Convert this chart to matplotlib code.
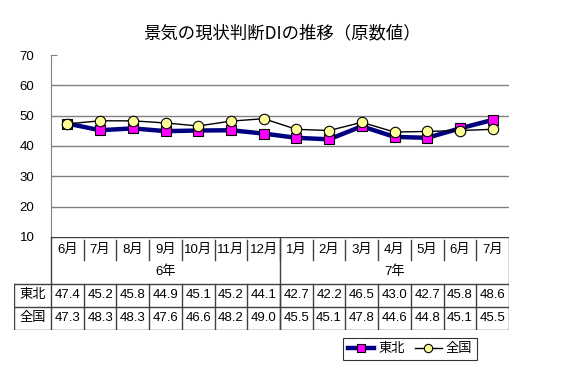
import numpy as np
import matplotlib.pyplot as plt

plt.rcParams['font.family'] = ['Liberation Sans', 'Noto Sans CJK JP']

months = ["6月", "7月", "8月", "9月", "10月", "11月", "12月",
          "1月", "2月", "3月", "4月", "5月", "6月", "7月"]
years = ["6年", "7年"]
tohoku = [47.4, 45.2, 45.8, 44.9, 45.1, 45.2, 44.1, 42.7, 42.2, 46.5, 43.0, 42.7, 45.8, 48.6]
zenkoku = [47.3, 48.3, 48.3, 47.6, 46.6, 48.2, 49.0, 45.5, 45.1, 47.8, 44.6, 44.8, 45.1, 45.5]
series_names = ["東北", "全国"]

W, H = 564, 382
fig = plt.figure(figsize=(W / 100, H / 100), dpi=100)
fs = 9.5

# main plot
ax = fig.add_axes([51 / W, 1 - 237 / H, 458 / W, 182 / H])
x = np.arange(len(months)) + 0.5
ax.plot(x, tohoku, color='#000080', lw=3.2, marker='s', ms=7.5,
        mfc='#FF00FF', mec='#000000', mew=0.8, label=series_names[0], zorder=3)
ax.plot(x, zenkoku, color='black', lw=1, marker='o', ms=7.5,
        mfc='#FFFF99', mec='#000000', mew=0.8, label=series_names[1], zorder=4)
ax.set_xlim(0, len(months))
ax.set_ylim(10, 70)
ax.set_yticks(range(10, 71, 10))
ax.set_xticks([])
for y in range(20, 70, 10):
    ax.axhline(y, color='#808080', lw=1, zorder=1)
for s in ['top', 'right', 'bottom']:
    ax.spines[s].set_visible(False)
ax.spines['left'].set_color('#808080')
ax.tick_params(axis='y', direction='in', length=4, color='#808080',
               labelsize=fs, pad=12)

fig.text(282 / W, 1 - 33 / H, "景気の現状判断DIの推移（原数値）",
         ha='center', va='center', fontsize=12.5,
         family=['Noto Sans CJK JP'])

# data table below
n = len(months)
colw = 458 / n
lab = 37 / colw
tb = fig.add_axes([14 / W, 1 - 330 / H, 495 / W, 93 / H])
tb.set_xlim(-lab, n)
tb.set_ylim(4, 0)
tb.axis('off')
lc = '#404040'
tb.plot([0, n], [0, 0], color=lc, lw=1)
for yy in [2, 3, 4]:
    tb.plot([-lab, n], [yy, yy], color=lc, lw=1)
tb.plot([-lab, -lab], [2, 4], color=lc, lw=1)
tb.plot([0, 0], [0, 4], color=lc, lw=1)
tb.plot([n, n], [0, 4], color=lc, lw=1)
tb.plot([7, 7], [0, 4], color=lc, lw=1)
for i in range(1, n):
    tb.plot([i, i], [0.12, 1], color=lc, lw=1)
    tb.plot([i, i], [2, 4], color=lc, lw=1)

for i, m in enumerate(months):
    tb.text(i + 0.5, 0.55, m, ha='center', va='center', fontsize=fs)
    tb.text(i + 0.5, 2.5, f"{tohoku[i]:.1f}", ha='center', va='center', fontsize=fs)
    tb.text(i + 0.5, 3.5, f"{zenkoku[i]:.1f}", ha='center', va='center', fontsize=fs)
tb.text(3.5, 1.5, years[0], ha='center', va='center', fontsize=fs)
tb.text(10.5, 1.5, years[1], ha='center', va='center', fontsize=fs)
tb.text(-lab / 2, 2.5, series_names[0], ha='center', va='center', fontsize=fs)
tb.text(-lab / 2, 3.5, series_names[1], ha='center', va='center', fontsize=fs)

leg = fig.legend(loc='center', bbox_to_anchor=(410 / W, 1 - 349 / H),
                 ncol=2, fontsize=fs, frameon=True, fancybox=False,
                 handlelength=2.0, handletextpad=0.3, columnspacing=0.8,
                 borderpad=0.4, markerscale=0.8)
leg.get_frame().set_edgecolor('black')
leg.get_frame().set_linewidth(0.8)

fig.savefig("out.png", dpi=100)
